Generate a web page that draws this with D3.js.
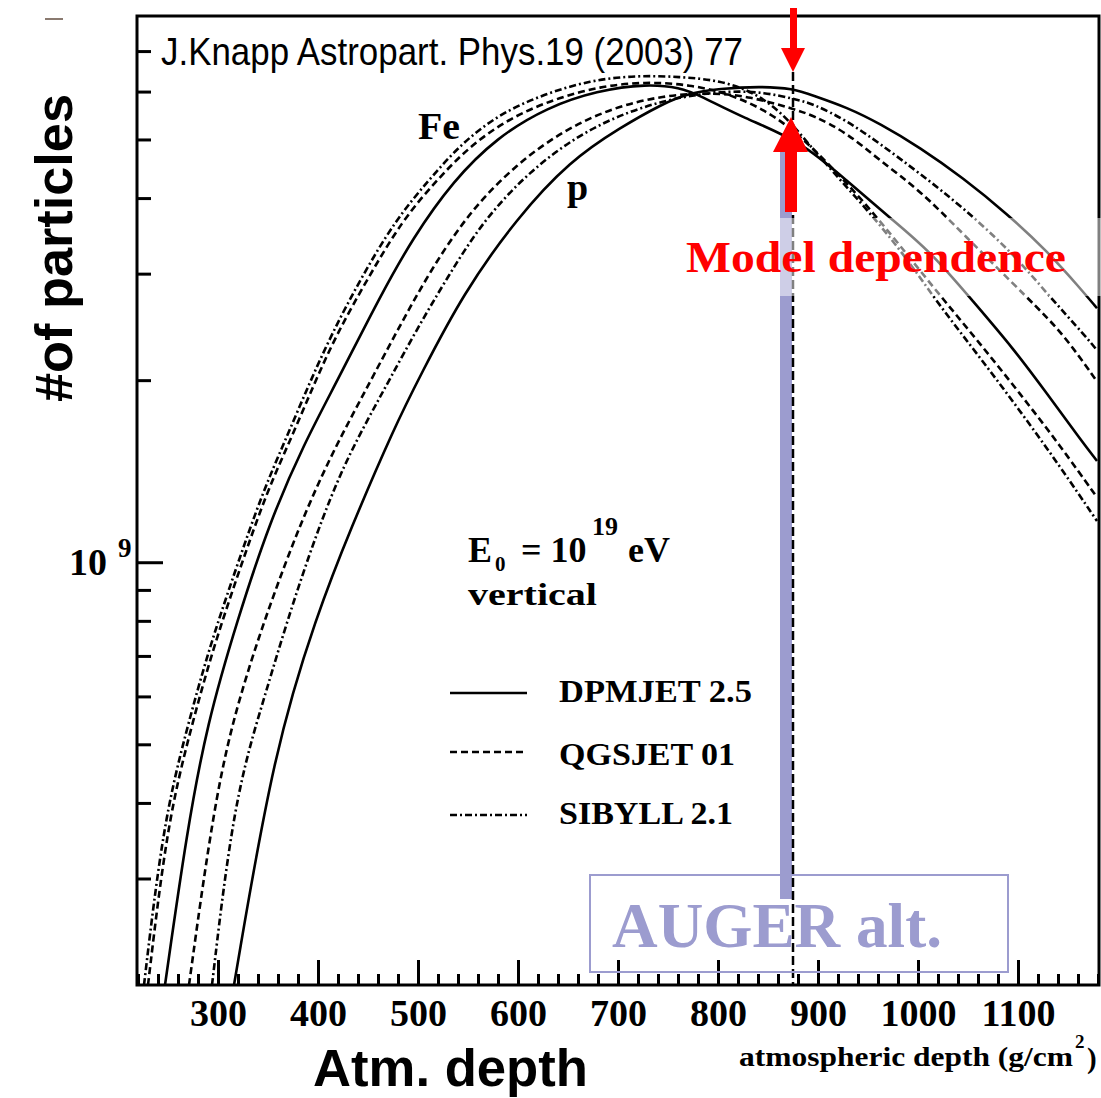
<!DOCTYPE html>
<html>
<head>
<meta charset="utf-8">
<script src="https://cdn.jsdelivr.net/npm/d3@7"></script>
<style>
body { margin: 0; background: #fff; }
</style>
</head>
<body>
<div id="vis1"></div>
<script>
const frame_width = 1101;
const frame_height = 1098;
const plot = {left: 137, right: 1099, top: 16, bottom: 985};

// atmospheric depth (g/cm^2) and number of particles (units of 10^9)
const feDpmDepth = [247, 269, 289, 319, 352, 386, 419, 462, 495, 535, 579, 629, 679, 729, 762, 782, 825, 882, 929, 972, 1012, 1055, 1095, 1129, 1162, 1179];
const feDpmN     = [0.2, 0.36, 0.54, 0.80, 1.17, 1.57, 1.99, 2.75, 3.44, 4.27, 5.04, 5.65, 6.02, 6.18, 6.09, 5.91, 5.43, 4.98, 4.27, 3.71, 3.27, 2.70, 2.26, 1.90, 1.60, 1.47];

const feQgsDepth = [230, 249, 272, 295, 322, 349, 373, 396, 419, 450, 484, 518, 552, 592, 637, 682, 727, 772, 812, 852, 882, 912, 945, 982, 1022, 1062, 1102, 1142, 1179];
const feQgsN     = [0.2, 0.368, 0.525, 0.72, 0.977, 1.31, 1.60, 1.97, 2.39, 2.95, 3.67, 4.27, 4.88, 5.43, 5.84, 6.12, 6.23, 6.16, 5.95, 5.54, 5.07, 4.53, 3.96, 3.34, 2.76, 2.30, 1.90, 1.56, 1.28];

const feSibDepth = [226, 245, 268, 291, 318, 345, 368, 391, 414, 443, 477, 510, 543, 582, 627, 672, 717, 762, 802, 837, 867, 892, 922, 952, 987, 1022, 1062, 1102, 1142, 1179];
const feSibN     = [0.2, 0.368, 0.525, 0.72, 0.977, 1.31, 1.60, 1.97, 2.39, 2.95, 3.67, 4.27, 4.92, 5.52, 5.95, 6.26, 6.38, 6.35, 6.26, 5.98, 5.48, 4.88, 4.29, 3.78, 3.21, 2.65, 2.18, 1.78, 1.44, 1.17];

const pDpmDepth = [316, 356, 399, 432, 477, 502, 545, 599, 652, 702, 745, 769, 802, 842, 875, 895, 929, 962, 1002, 1045, 1089, 1129, 1162, 1179];
const pDpmN     = [0.2, 0.49, 0.82, 1.13, 1.68, 2.03, 2.78, 3.71, 4.61, 5.23, 5.73, 5.95, 6.07, 6.12, 6.07, 5.91, 5.65, 5.31, 4.85, 4.32, 3.77, 3.27, 2.84, 2.63];

const pQgsDepth = [271, 299, 326, 352, 382, 412, 439, 455, 479, 512, 552, 599, 645, 695, 745, 792, 832, 875, 895, 929, 962, 1002, 1045, 1112, 1145, 1179];
const pQgsN     = [0.2, 0.434, 0.635, 0.852, 1.156, 1.49, 1.81, 2.03, 2.41, 3.03, 3.81, 4.56, 5.17, 5.65, 5.91, 5.98, 5.89, 5.62, 5.48, 5.13, 4.61, 4.12, 3.49, 2.71, 2.39, 1.99];

const pSibDepth = [294, 316, 346, 369, 399, 426, 452, 472, 499, 529, 565, 612, 662, 712, 762, 812, 847, 875, 895, 929, 962, 1002, 1045, 1095, 1129, 1169, 1179];
const pSibN     = [0.2, 0.407, 0.595, 0.799, 1.125, 1.45, 1.75, 2.01, 2.43, 2.95, 3.67, 4.44, 5.11, 5.58, 5.89, 6.02, 5.98, 5.84, 5.73, 5.37, 4.92, 4.39, 3.86, 3.24, 2.78, 2.35, 2.24];

const models = ["DPMJET 2.5", "QGSJET 01", "SIBYLL 2.1"];
const xTickLabels = [300, 400, 500, 600, 700, 800, 900, 1000, 1100];
const yMinorTicks = [0.3, 0.4, 0.5, 0.6, 0.7, 0.8, 0.9, 2, 3, 4, 5, 6, 7];
const augerDepth = 875;

const dashes = {"DPMJET 2.5": null, "QGSJET 01": "7,4", "SIBYLL 2.1": "7,3,2,3"};

const curves = [
    {model: "DPMJET 2.5", depth: feDpmDepth, n: feDpmN},
    {model: "QGSJET 01", depth: feQgsDepth, n: feQgsN},
    {model: "SIBYLL 2.1", depth: feSibDepth, n: feSibN},
    {model: "DPMJET 2.5", depth: pDpmDepth, n: pDpmN},
    {model: "QGSJET 01", depth: pQgsDepth, n: pQgsN},
    {model: "SIBYLL 2.1", depth: pSibDepth, n: pSibN}
];

const violet = "#9c9ccf";
const serif = "'Liberation Serif', 'Times New Roman', serif";
const sans = "'Liberation Sans', Arial, sans-serif";

const svg = d3.select("#vis1")
    .append("svg")
        .attr("width", frame_width)
        .attr("height", frame_height);

const x_scale = d3.scaleLinear()
    .domain([219, 1181])
    .range([plot.left, plot.right]);

const y_scale = d3.scaleLog()
    .domain([0.2, 8])
    .range([plot.bottom, plot.top]);

svg.append("clipPath")
    .attr("id", "clip")
    .append("rect")
        .attr("x", plot.left)
        .attr("y", plot.top)
        .attr("width", plot.right - plot.left)
        .attr("height", plot.bottom - plot.top);

// AUGER altitude bar
svg.append("rect")
    .attr("x", x_scale(augerDepth) - 13)
    .attr("y", 150)
    .attr("width", 12)
    .attr("height", 749)
    .attr("fill", violet);

const line = d3.line()
    .x((d) => x_scale(d[0]))
    .y((d) => y_scale(d[1]))
    .curve(d3.curveBasis);

svg.append("g")
    .attr("clip-path", "url(#clip)")
    .selectAll("path")
    .data(curves)
    .enter()
    .append("path")
        .attr("d", (c) => line(c.depth.map((v, i) => [v, c.n[i]])))
        .attr("fill", "none")
        .attr("stroke", "#000")
        .attr("stroke-width", 2.6)
        .attr("stroke-dasharray", (c) => dashes[c.model]);

// vertical dashed line at the AUGER depth
svg.append("line")
    .attr("x1", x_scale(augerDepth))
    .attr("x2", x_scale(augerDepth))
    .attr("y1", 72)
    .attr("y2", plot.bottom)
    .attr("stroke", "#000")
    .attr("stroke-width", 2.5)
    .attr("stroke-dasharray", "9,4");

// x axis ticks (inside)
const xMinor = d3.range(220, 1181, 20).filter((v) => v % 100 !== 0);
svg.append("g")
    .attr("transform", "translate(0," + plot.bottom + ")")
    .call(d3.axisBottom(x_scale).tickValues(xMinor).tickSize(-11).tickFormat(""))
    .call((g) => g.select(".domain").remove())
    .selectAll("line").attr("stroke-width", 3);

svg.append("g")
    .attr("transform", "translate(0," + plot.bottom + ")")
    .call(d3.axisBottom(x_scale).tickValues(xTickLabels).tickSize(-25).tickPadding(14).tickFormat(d3.format("d")))
    .call((g) => g.select(".domain").remove())
    .call((g) => g.selectAll("line").attr("stroke-width", 3))
    .selectAll("text")
        .attr("font-family", serif)
        .attr("font-weight", "bold")
        .attr("font-size", 38)
        .attr("fill", "#000");

// y axis ticks (inside)
svg.append("g")
    .attr("transform", "translate(" + plot.left + ",0)")
    .call(d3.axisRight(y_scale).tickValues(yMinorTicks).tickSize(14).tickFormat(""))
    .call((g) => g.select(".domain").remove())
    .selectAll("line").attr("stroke-width", 3);

svg.append("g")
    .attr("transform", "translate(" + plot.left + ",0)")
    .call(d3.axisRight(y_scale).tickValues([1]).tickSize(26).tickFormat(""))
    .call((g) => g.select(".domain").remove())
    .selectAll("line").attr("stroke-width", 3);

const yLabel = svg.append("text")
    .attr("font-family", serif)
    .attr("font-weight", "bold");
yLabel.append("tspan")
    .attr("x", 69)
    .attr("y", y_scale(1) + 13)
    .attr("font-size", 38)
    .text("10");
yLabel.append("tspan")
    .attr("x", 118)
    .attr("y", y_scale(1) - 5)
    .attr("font-size", 27)
    .text("9");

// frame
svg.append("rect")
    .attr("x", plot.left)
    .attr("y", plot.top)
    .attr("width", plot.right - plot.left)
    .attr("height", plot.bottom - plot.top)
    .attr("fill", "none")
    .attr("stroke", "#000")
    .attr("stroke-width", 3);

// light box behind the "Model dependence" label
svg.append("rect")
    .attr("x", 683)
    .attr("y", 218)
    .attr("width", 418)
    .attr("height", 78)
    .attr("fill", "#fff")
    .attr("fill-opacity", 0.5);

svg.append("text")
    .attr("x", 686)
    .attr("y", 272)
    .attr("font-family", serif)
    .attr("font-weight", "bold")
    .attr("font-size", 44)
    .attr("textLength", 380)
    .attr("lengthAdjust", "spacingAndGlyphs")
    .attr("fill", "#ff0000")
    .text("Model dependence");

// red arrows
const ax = x_scale(augerDepth);
svg.append("rect").attr("x", ax - 3).attr("y", 8).attr("width", 7).attr("height", 42).attr("fill", "#ff0000");
svg.append("path")
    .attr("d", "M" + (ax - 12) + ",48 L" + (ax + 12) + ",48 L" + ax + ",72 Z")
    .attr("fill", "#ff0000");
svg.append("rect").attr("x", ax - 8).attr("y", 150).attr("width", 12).attr("height", 62).attr("fill", "#ff0000");
svg.append("path")
    .attr("d", "M" + (ax - 20) + ",152 L" + (ax + 15) + ",152 L" + (ax - 2) + ",117 Z")
    .attr("fill", "#ff0000");

// labels inside plot
svg.append("text")
    .attr("x", 161)
    .attr("y", 65)
    .attr("font-family", "'Liberation Sans Narrow', " + sans)
    .attr("font-size", 39)
    .attr("textLength", 582)
    .attr("lengthAdjust", "spacingAndGlyphs")
    .text("J.Knapp Astropart. Phys.19 (2003) 77");

const label = (txt, x, y, size, len) => {
    const t = svg.append("text")
        .attr("x", x)
        .attr("y", y)
        .attr("font-family", serif)
        .attr("font-weight", "bold")
        .attr("font-size", size)
        .text(txt);
    if (len) t.attr("textLength", len).attr("lengthAdjust", "spacingAndGlyphs");
    return t;
};

label("Fe", 418, 139, 38, 42);
label("p", 567, 200, 38);

// E0 = 10^19 eV as one text with sub/superscripts
const energy = svg.append("text")
    .attr("font-family", serif)
    .attr("font-weight", "bold");
[
    {t: "E", x: 468, y: 562, s: 36},
    {t: "0", x: 495, y: 571, s: 21},
    {t: "= 10", x: 521, y: 562, s: 36},
    {t: "19", x: 592, y: 535, s: 26},
    {t: "eV", x: 628, y: 562, s: 36}
].forEach((p) => {
    energy.append("tspan")
        .attr("x", p.x)
        .attr("y", p.y)
        .attr("font-size", p.s)
        .text(p.t);
});
label("vertical", 468, 605, 32, 129);

// legend
const legendY = [693, 752, 815];
const legendTextY = [702, 765, 824];
const legendLen = [193, 176, 174];
models.forEach((m, i) => {
    svg.append("line")
        .attr("x1", 450)
        .attr("x2", 527)
        .attr("y1", legendY[i])
        .attr("y2", legendY[i])
        .attr("stroke", "#000")
        .attr("stroke-width", 2.6)
        .attr("stroke-dasharray", dashes[m]);
    label(m, 559, legendTextY[i], 32, legendLen[i]);
});

// AUGER box
svg.append("rect")
    .attr("x", 590)
    .attr("y", 875)
    .attr("width", 418)
    .attr("height", 97)
    .attr("fill", "none")
    .attr("stroke", violet)
    .attr("stroke-width", 2);
label("AUGER alt.", 612, 947, 63, 330).attr("fill", violet);

// axis titles
svg.append("text")
    .attr("x", 313)
    .attr("y", 1086)
    .attr("font-family", sans)
    .attr("font-weight", "bold")
    .attr("font-size", 51)
    .attr("textLength", 275)
    .attr("lengthAdjust", "spacingAndGlyphs")
    .text("Atm. depth");

svg.append("text")
    .attr("transform", "translate(72,402) rotate(-90)")
    .attr("font-family", sans)
    .attr("font-weight", "bold")
    .attr("font-size", 52)
    .attr("textLength", 308)
    .attr("lengthAdjust", "spacingAndGlyphs")
    .text("#of particles");

const unit = svg.append("text")
    .attr("font-family", serif)
    .attr("font-weight", "bold");
unit.append("tspan").attr("x", 739).attr("y", 1066).attr("font-size", 27)
    .attr("textLength", 334).attr("lengthAdjust", "spacingAndGlyphs")
    .text("atmospheric depth (g/cm");
unit.append("tspan").attr("x", 1075).attr("y", 1048).attr("font-size", 19).text("2");
unit.append("tspan").attr("x", 1087).attr("y", 1068).attr("font-size", 29).text(")");

svg.append("line")
    .attr("x1", 45).attr("x2", 63)
    .attr("y1", 19).attr("y2", 19)
    .attr("stroke", "#8a7a70")
    .attr("stroke-width", 2);
</script>
</body>
</html>
